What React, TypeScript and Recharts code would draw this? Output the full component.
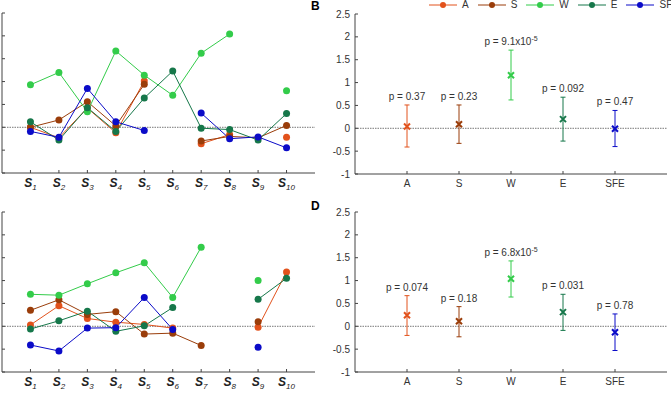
import React from "react";
import {
  LineChart,
  Line,
  XAxis,
  YAxis,
  ReferenceLine,
  ScatterChart,
  Scatter,
  ErrorBar,
} from "recharts";

const subjects = ["1", "2", "3", "4", "5", "6", "7", "8", "9", "10"];
const seriesNames = ["A", "S", "W", "E", "SFE"];
const colors = ["#e2521c", "#9a3d0a", "#33cc4a", "#16774a", "#0b0bc8"];
const yTicks = [-1, -0.5, 0, 0.5, 1, 1.5, 2, 2.5];

// top-left panel, per subject
const topA = [0, -0.23, 0.42, -0.12, 1.01, null, -0.36, -0.16, null, -0.22];
const topS = [0, 0.16, 0.56, 0.03, 0.94, null, -0.3, -0.2, -0.23, 0.04];
const topW = [0.93, 1.2, 0.34, 1.67, 1.14, 0.7, 1.62, 2.04, null, 0.8];
const topE = [0.12, -0.28, 0.43, -0.09, 0.64, 1.23, -0.02, -0.05, -0.28, 0.3];
const topSFE = [-0.09, -0.22, 0.85, 0.12, -0.07, null, 0.31, -0.25, -0.21, -0.45];

// bottom-left panel
const botA = [0.03, 0.45, 0.17, 0.09, 0.04, -0.04, null, null, -0.02, 1.19];
const botS = [0.35, 0.58, 0.26, 0.32, -0.17, -0.15, -0.42, null, 0.1, null];
const botW = [0.7, 0.68, 0.93, 1.17, 1.39, 0.63, 1.73, null, 1.0, null];
const botE = [-0.06, 0.12, 0.33, -0.11, 0.01, 0.41, null, null, 0.59, 1.05];
const botSFE = [-0.41, -0.54, -0.04, -0.03, 0.63, -0.07, null, null, -0.46, null];

// panel B
const bMean = [0.04, 0.09, 1.16, 0.2, -0.01];
const bLow = [-0.41, -0.33, 0.62, -0.28, -0.4];
const bHigh = [0.51, 0.51, 1.71, 0.68, 0.39];
const bP = ["0.37", "0.23", "9.1x10^-5", "0.092", "0.47"];

// panel D
const dMean = [0.24, 0.11, 1.04, 0.31, -0.13];
const dLow = [-0.2, -0.23, 0.64, -0.09, -0.53];
const dHigh = [0.67, 0.43, 1.43, 0.7, 0.27];
const dP = ["0.074", "0.18", "6.8x10^-5", "0.031", "0.78"];

const axisColor = "#444";
const textColor = "#333";
const font = "'Liberation Sans', Arial, sans-serif";

function YTick(props: any) {
  const { x, y, payload, showLabel } = props;
  return (
    <g>
      <line x1={x + 5} x2={x + 8} y1={y} y2={y} stroke={axisColor} />
      {showLabel && (
        <text x={x} y={y + 3.5} textAnchor="end" fontSize={10} fill={textColor}>
          {payload.value}
        </text>
      )}
    </g>
  );
}

function SubjectTick(props: any) {
  const { x, y, payload } = props;
  return (
    <g>
      <line x1={x} x2={x} y1={y - 5} y2={y - 8} stroke={axisColor} />
      <text
        x={x}
        y={y + 9}
        textAnchor="middle"
        fontSize={12}
        fontWeight="bold"
        fontStyle="italic"
        fill="#222"
      >
        S
        <tspan fontSize={8} fontWeight="normal" dy={3}>
          {subjects[payload.value - 1]}
        </tspan>
      </text>
    </g>
  );
}

function GroupTick(props: any) {
  const { x, y, payload } = props;
  return (
    <g>
      <line x1={x} x2={x} y1={y - 5} y2={y - 8} stroke={axisColor} />
      <text x={x} y={y + 8} textAnchor="middle" fontSize={10} fill={textColor}>
        {seriesNames[payload.value - 1]}
      </text>
    </g>
  );
}

function SubjectPanel({ rows }: { rows: (number | null)[][] }) {
  const data = subjects.map((_, i) => {
    const row: any = { x: i + 1 };
    seriesNames.forEach((n, k) => (row[n] = rows[k][i]));
    return row;
  });
  return (
    <LineChart width={360} height={195} data={data} margin={{ top: 13, right: 5, bottom: 1, left: 0 }}>
      <XAxis
        type="number"
        dataKey="x"
        domain={[0, 11]}
        ticks={[1, 2, 3, 4, 5, 6, 7, 8, 9, 10]}
        interval={0}
        height={21}
        tickSize={0}
        tickMargin={5}
        tickLine={false}
        axisLine={{ stroke: axisColor }}
        tick={<SubjectTick />}
      />
      <YAxis
        type="number"
        domain={[-1, 2.5]}
        ticks={yTicks}
        interval={0}
        width={42}
        tickSize={0}
        tickMargin={5}
        tickLine={false}
        axisLine={{ stroke: axisColor }}
        tick={<YTick showLabel={false} />}
      />
      <ReferenceLine y={0} stroke="#777" strokeDasharray="1.5 1" />
      {seriesNames.map((n, k) => (
        <Line
          key={n}
          dataKey={n}
          stroke={colors[k]}
          strokeWidth={1}
          dot={{ r: 3.5, fill: colors[k], stroke: colors[k], strokeWidth: 0 }}
          isAnimationActive={false}
        />
      ))}
    </LineChart>
  );
}

function Cross(color: string) {
  return (props: any) => {
    const { cx, cy } = props;
    const s = 3;
    return (
      <path
        d={`M${cx - s},${cy - s}L${cx + s},${cy + s}M${cx - s},${cy + s}L${cx + s},${cy - s}`}
        stroke={color}
        strokeWidth={2}
        fill="none"
      />
    );
  };
}

function PLabel(props: any) {
  const { cx, cy, payload } = props;
  const [base, exp] = String(payload.p).split("^");
  return (
    <text x={cx} y={cy - 5} textAnchor="middle" fontSize={10} fill={textColor}>
      {"p = " + base}
      {exp && (
        <tspan fontSize={7} dy={-4}>
          {exp}
        </tspan>
      )}
    </text>
  );
}

function ErrorPanel({ means, lows, highs, pvals, top }: any) {
  return (
    <ScatterChart width={362} height={195} margin={{ top, right: 5, bottom: 1, left: 0 }}>
      <XAxis
        type="number"
        dataKey="x"
        domain={[0, 6]}
        ticks={[1, 2, 3, 4, 5]}
        interval={0}
        height={20}
        tickSize={0}
        tickMargin={5}
        tickLine={false}
        axisLine={{ stroke: axisColor }}
        tick={<GroupTick />}
      />
      <YAxis
        type="number"
        dataKey="y"
        domain={[-1, 2.5]}
        ticks={yTicks}
        interval={0}
        width={45}
        tickSize={0}
        tickMargin={5}
        tickLine={false}
        axisLine={{ stroke: axisColor }}
        tick={<YTick showLabel />}
      />
      <ReferenceLine y={0} stroke="#777" strokeDasharray="1.5 1" />
      {seriesNames.map((n, i) => (
        <Scatter
          key={n}
          name={n}
          data={[{ x: i + 1, y: means[i], err: [means[i] - lows[i], highs[i] - means[i]] }]}
          shape={Cross(colors[i])}
          isAnimationActive={false}
        >
          <ErrorBar dataKey="err" direction="y" width={2.5} stroke={colors[i]} strokeWidth={1} />
        </Scatter>
      ))}
      <Scatter
        data={seriesNames.map((_, i) => ({ x: i + 1, y: highs[i], p: pvals[i] }))}
        shape={PLabel}
        isAnimationActive={false}
      />
    </ScatterChart>
  );
}

function Legend() {
  return (
    <div
      style={{
        position: "absolute",
        left: 429,
        top: 0,
        display: "flex",
        alignItems: "center",
        height: 9,
        fontSize: 10,
        color: textColor,
        whiteSpace: "nowrap",
      }}
    >
      {seriesNames.map((n, i) => (
        <div key={n} style={{ display: "flex", alignItems: "center", marginRight: 9 }}>
          <svg width={28} height={8}>
            <line x1={0} x2={28} y1={4} y2={4} stroke={colors[i]} strokeWidth={1} />
            <circle cx={14} cy={4} r={3} fill={colors[i]} />
          </svg>
          <span style={{ marginLeft: 5, lineHeight: "9px" }}>{n}</span>
        </div>
      ))}
    </div>
  );
}

export default function App() {
  return (
    <div
      style={{
        position: "absolute",
        left: 0,
        top: 0,
        width: 671,
        height: 395,
        overflow: "hidden",
        background: "#fff",
        fontFamily: font,
      }}
    >
      <div style={{ position: "absolute", left: -40, top: 0 }}>
        <SubjectPanel rows={[topA, topS, topW, topE, topSFE]} />
      </div>
      <div style={{ position: "absolute", left: -40, top: 199 }}>
        <SubjectPanel rows={[botA, botS, botW, botE, botSFE]} />
      </div>
      <div style={{ position: "absolute", left: 310, top: 0 }}>
        <ErrorPanel means={bMean} lows={bLow} highs={bHigh} pvals={bP} top={14} />
      </div>
      <div style={{ position: "absolute", left: 310, top: 198 }}>
        <ErrorPanel means={dMean} lows={dLow} highs={dHigh} pvals={dP} top={14} />
      </div>
      <Legend />
      <div style={{ position: "absolute", left: 311, top: 0, fontSize: 12, fontWeight: "bold", lineHeight: "12px" }}>
        B
      </div>
      <div style={{ position: "absolute", left: 311, top: 200, fontSize: 12, fontWeight: "bold", lineHeight: "12px" }}>
        D
      </div>
    </div>
  );
}
